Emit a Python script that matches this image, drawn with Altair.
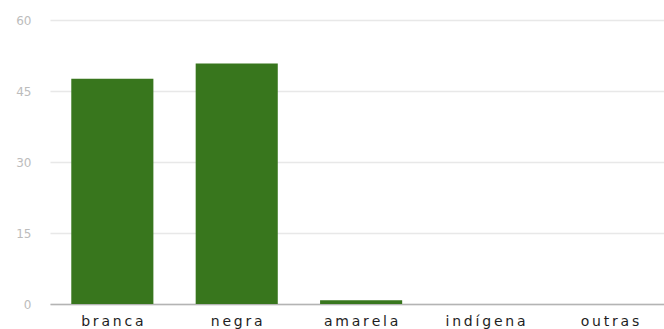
import altair as alt
import pandas as pd

categorias = ["branca", "negra", "amarela", "indígena", "outras"]
valores = [47.6, 50.8, 0.8, 0, 0]
marcas_y = [0, 15, 30, 45, 60]

df = pd.DataFrame({"categoria": categorias, "valor": valores})

# widen the category labels a little with thin spaces between letters
espacado = "join(split(datum.label, ''), '\u2009')"

bars = alt.Chart(df).mark_bar(color="#38761d").encode(
    x=alt.X(
        "categoria:N",
        sort=categorias,
        title=None,
        scale=alt.Scale(paddingInner=0.34, paddingOuter=0.138, align=0.62),
        axis=alt.Axis(
            labelAngle=0,
            labelFont="DejaVu Sans",
            labelFontSize=14,
            labelColor="#1e1e1e",
            labelBaseline="alphabetic",
            labelPadding=21,
            labelExpr=espacado,
            ticks=False,
            domain=True,
            domainColor="#b4b4b4",
            domainWidth=1.6,
            grid=False,
        ),
    ),
    y=alt.Y(
        "valor:Q",
        title=None,
        scale=alt.Scale(domain=[0, 60], nice=False),
        axis=alt.Axis(
            values=marcas_y,
            labelFont="DejaVu Sans",
            labelFontSize=12,
            labelColor="#bcbcbc",
            labelPadding=19,
            ticks=False,
            domain=False,
            grid=True,
            gridColor="#e8e8e8",
            gridWidth=1.4,
        ),
    ),
)

chart = bars.properties(
    width=614,
    height=284,
    background="white",
    autosize=alt.AutoSizeParams(type="none"),
    padding={"left": 50, "top": 20, "right": 0, "bottom": 25},
).configure_view(stroke=None)

chart.save("out.html", embed_options={"renderer": "svg", "actions": False})
